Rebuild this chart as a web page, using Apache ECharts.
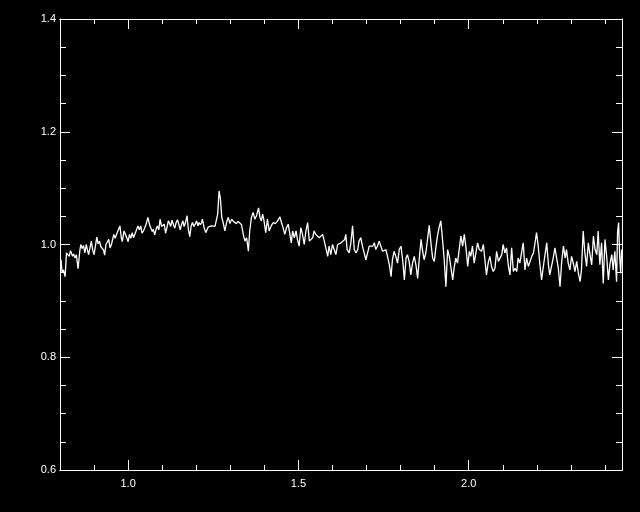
<!DOCTYPE html>
<html>
<head>
<meta charset="utf-8">
<script src="https://cdn.jsdelivr.net/npm/echarts@6/dist/echarts.min.js"></script>
<style>
html,body{margin:0;padding:0;background:#000;}
#chart{width:640px;height:512px;}
</style>
</head>
<body>
<div id="chart"></div>
<script>
// wavelength (x) values
const wavelength = [
0.803,0.806,0.810,0.815,0.819,0.823,0.827,0.831,0.837,0.840,0.844,0.848,0.853,0.858,0.861,0.865,0.869,0.873,0.877,0.881,
0.884,0.888,0.892,0.896,0.900,0.904,0.908,0.912,0.916,0.920,0.924,0.928,0.931,0.935,0.939,0.943,0.947,0.951,0.958,0.962,
0.966,0.971,0.976,0.980,0.983,0.988,0.992,0.996,1.000,1.004,1.008,1.012,1.016,1.020,1.029,1.033,1.037,1.041,1.045,1.049,
1.053,1.058,1.063,1.067,1.071,1.074,1.078,1.082,1.086,1.090,1.094,1.098,1.102,1.106,1.110,1.114,1.118,1.121,1.125,1.129,
1.133,1.137,1.141,1.145,1.149,1.153,1.157,1.161,1.164,1.168,1.173,1.177,1.181,1.185,1.189,1.193,1.197,1.201,1.205,1.208,
1.212,1.216,
1.218,1.223,1.228,1.235,1.240,1.245,1.250,1.255,1.260,1.263,1.267,1.271,1.275,1.279,1.284,1.289,1.294,1.299,1.304,1.309,
1.313,1.318,1.323,1.328,1.333,1.338,1.343,1.348,1.353,1.357,1.362,1.367,1.372,1.377,1.383,1.387,1.391,1.395,1.399,1.404,
1.409,1.414,1.420,1.426,1.432,1.438,1.446,1.450,1.455,1.460,1.465,1.470,1.475,1.479,1.483,1.488,1.493,1.497,1.502,1.507,
1.512,1.517,1.522,1.527,1.532,1.537,1.542,1.546,1.551,1.556,1.561,1.566,1.571,1.576,1.581,1.586,1.590,1.595,1.600,1.605,
1.610,1.615,1.620,1.625,1.630,1.636,
1.639,1.643,1.649,1.654,1.659,1.664,1.669,1.674,1.678,1.683,1.688,1.693,1.698,1.703,1.708,1.713,1.718,1.723,1.727,1.732,
1.737,1.742,1.747,1.752,1.757,1.762,1.767,1.772,1.776,1.781,1.786,1.791,1.796,1.801,1.806,1.811,1.816,1.820,1.825,1.830,
1.835,1.840,1.845,1.850,1.855,1.860,1.864,1.869,1.874,1.879,1.884,1.889,1.894,1.899,1.904,1.909,1.913,1.918,1.923,1.928,
1.933,1.938,1.943,1.948,1.953,1.957,1.962,1.967,1.972,1.977,1.982,1.987,1.992,1.997,2.002,2.006,2.011,2.016,2.021,2.026,
2.031,
2.038,2.043,2.048,2.052,2.057,2.062,2.067,2.072,2.077,2.082,2.087,2.092,2.097,2.101,2.106,2.111,2.116,2.121,2.126,2.131,
2.136,2.141,2.145,2.150,2.155,2.160,2.165,2.170,2.175,2.180,2.185,2.190,2.194,2.199,2.204,2.209,2.214,2.219,2.224,2.229,
2.234,2.238,2.243,2.248,2.253,2.258,2.263,2.268,2.273,2.278,2.283,2.287,2.292,2.297,2.302,2.307,2.312,2.317,2.322,2.327,
2.331,2.336,2.341,2.346,2.351,2.356,2.361,2.366,2.371,2.376,2.380,2.385,2.390,2.395,2.400,2.405,2.410,2.415,2.420,2.424,
2.429,2.434,2.437,2.440,2.443,2.446,2.449
];

// flux (y) values
const flux = [
0.973,0.951,0.955,0.943,0.985,0.988,0.979,0.989,0.979,0.983,0.976,0.982,0.957,0.988,1.000,0.993,0.998,0.985,1.000,0.989,
0.982,0.994,1.006,0.990,0.982,0.997,1.013,1.001,1.006,0.996,0.998,0.990,0.981,1.000,1.002,1.009,0.994,1.000,1.018,1.011,
1.018,1.017,1.033,1.012,1.005,1.024,1.027,1.012,1.005,1.018,1.011,1.021,1.012,1.015,1.033,1.026,1.033,1.020,1.024,1.026,
1.036,1.048,1.035,1.029,1.023,1.027,1.017,1.027,1.033,1.026,1.045,1.032,1.029,1.036,1.020,1.030,1.042,1.038,1.032,1.043,
1.035,1.029,1.039,1.044,1.035,1.026,1.036,1.042,1.032,1.038,1.051,1.026,1.014,1.033,1.039,1.032,1.036,1.042,1.033,1.039,
1.035,1.039,
1.045,1.030,1.021,1.031,1.029,1.033,1.030,1.032,1.031,1.054,1.095,1.081,1.048,1.039,1.024,1.039,1.048,1.037,1.045,1.041,
1.043,1.037,1.041,1.039,1.035,1.018,1.006,1.012,0.988,1.024,1.048,1.057,1.045,1.051,1.065,1.048,1.042,1.054,1.042,1.021,
1.045,1.024,1.033,1.039,1.037,1.041,1.049,1.039,1.030,1.018,1.030,1.036,1.018,1.003,1.024,1.012,1.024,1.009,0.997,1.030,
1.018,1.000,1.024,1.039,1.006,1.003,1.012,1.024,1.018,1.021,1.012,1.015,1.018,1.006,1.003,0.979,0.997,0.982,1.000,0.997,
0.982,1.000,0.997,1.003,1.000,1.009,
1.018,0.991,0.985,1.003,1.033,0.991,0.985,0.991,1.006,1.012,0.997,0.985,0.973,0.985,0.997,0.994,0.997,1.003,0.991,0.997,
1.006,1.003,0.988,0.985,0.991,0.988,0.964,0.943,0.973,0.988,0.979,0.967,0.991,0.997,0.973,0.937,0.976,0.982,0.970,0.946,
0.967,0.979,0.964,0.940,0.976,1.009,0.991,0.973,0.985,1.009,1.034,1.003,0.976,0.970,0.997,1.018,1.030,1.042,1.009,0.973,
0.925,0.991,0.979,0.976,0.937,0.958,0.976,0.967,0.991,1.015,0.997,1.018,0.994,0.961,0.988,0.979,0.997,0.967,0.985,1.003,
0.991,
0.988,1.000,0.997,0.946,0.967,0.979,0.961,0.952,0.958,0.988,0.970,0.967,0.982,1.000,0.985,0.994,0.964,0.946,0.994,0.952,
0.958,0.952,0.976,0.967,0.985,1.003,0.955,0.976,0.961,0.970,0.979,0.985,1.000,1.021,0.997,0.964,0.937,0.961,0.982,1.003,
0.964,0.946,0.961,0.976,0.994,0.976,0.958,0.925,0.970,0.997,0.976,0.991,0.967,0.955,0.979,0.967,0.952,0.970,0.949,0.934,
0.955,1.024,0.985,0.961,1.003,0.982,0.964,1.015,0.991,0.982,1.024,0.964,1.003,0.931,1.009,0.979,0.937,0.967,0.982,0.955,
0.988,0.934,1.021,1.039,0.982,0.949,0.991
];

const xMajorTicks = [1.0, 1.5, 2.0];
const yTicks = [0.6, 0.8, 1.0, 1.2, 1.4];

const points = wavelength.map((w, i) => [w, flux[i]]);

const white = '#ffffff';
const labelFont = { color: white, fontFamily: 'Liberation Sans', fontSize: 11 };

function xMinor(position) {
  return {
    type: 'value', position: position, min: 0.8, max: 2.45, interval: 0.1,
    axisLine: { show: true, lineStyle: { color: white, width: 1 } },
    axisTick: { show: true, inside: true, length: 5, lineStyle: { color: white, width: 1 } },
    axisLabel: { show: false },
    splitLine: { show: false }
  };
}
function xMajor(position, showLabel) {
  return {
    type: 'value', position: position, min: 0.8, max: 2.45,
    axisLine: { show: true, lineStyle: { color: white, width: 1 } },
    axisTick: { show: true, inside: true, length: 10, customValues: xMajorTicks, lineStyle: { color: white, width: 1 } },
    axisLabel: Object.assign({ show: showLabel, customValues: xMajorTicks, margin: 8,
      formatter: v => Number(v).toFixed(1) }, labelFont),
    splitLine: { show: false }
  };
}
function yAxisDef(position, showLabel) {
  return {
    type: 'value', position: position, min: 0.6, max: 1.4, interval: 0.2,
    axisLine: { show: true, lineStyle: { color: white, width: 1 } },
    axisTick: { show: true, inside: true, length: 10, lineStyle: { color: white, width: 1 } },
    minorTick: { show: true, splitNumber: 4, length: 6, lineStyle: { color: white, width: 1 } },
    axisLabel: Object.assign({ show: showLabel, margin: 4,
      formatter: v => Number(v).toFixed(1) }, labelFont),
    splitLine: { show: false },
    minorSplitLine: { show: false }
  };
}

const chart = echarts.init(document.getElementById('chart'), null, { renderer: 'canvas' });
chart.setOption({
  backgroundColor: '#000000',
  animation: false,
  grid: { left: 60, right: 18, top: 19, bottom: 42, containLabel: false },
  xAxis: [xMinor('bottom'), xMajor('bottom', true), xMinor('top'), xMajor('top', false)],
  yAxis: [yAxisDef('left', true), yAxisDef('right', false)],
  series: [{
    type: 'line',
    xAxisIndex: 0,
    yAxisIndex: 0,
    data: points,
    showSymbol: false,
    symbol: 'none',
    smooth: false,
    lineStyle: { color: white, width: 1.3 },
    emphasis: { disabled: true }
  }]
});
</script>
</body>
</html>
